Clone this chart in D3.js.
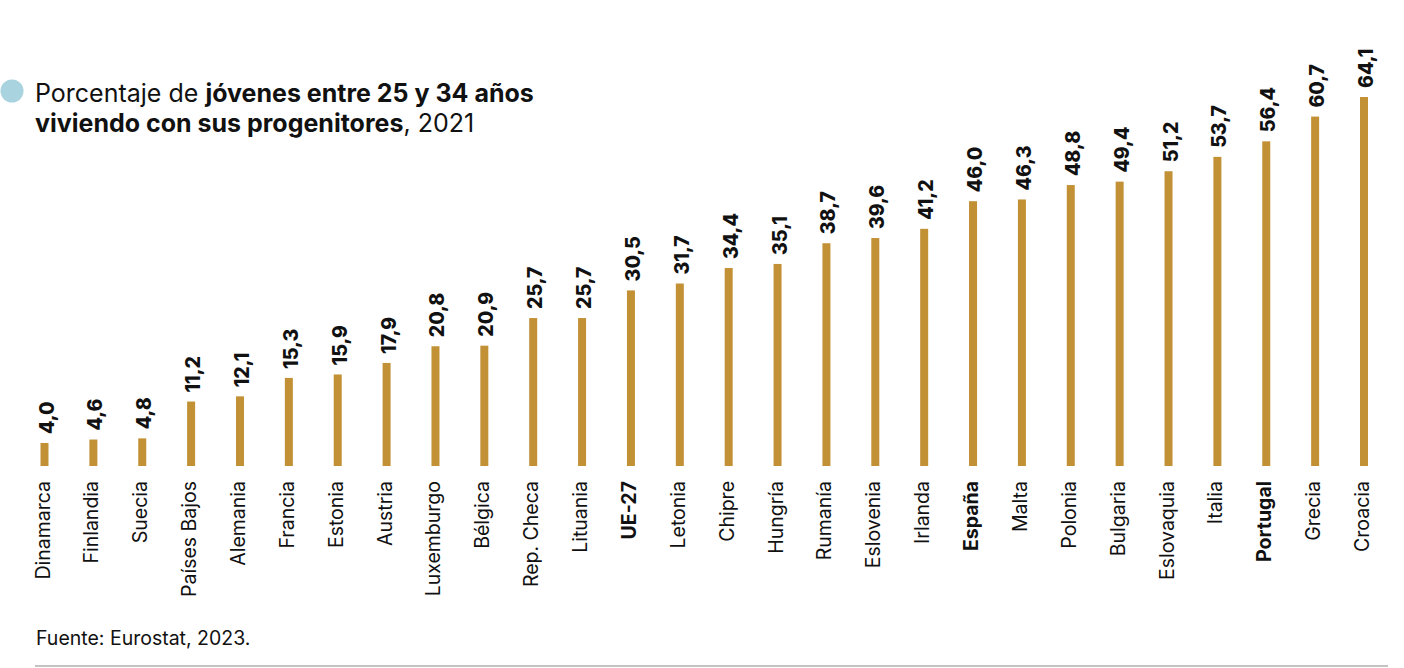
<!DOCTYPE html>
<html>
<head>
<meta charset="utf-8">
<script src="https://cdn.jsdelivr.net/npm/d3@7"></script>
<style>
  body { margin: 0; background: #fff; }
  svg { display: block; font-family: Inter, "Noto Sans", sans-serif; }
</style>
</head>
<body>
<div id="chart"></div>
<script>
// datos (Eurostat 2021)
const paises = ["Dinamarca", "Finlandia", "Suecia", "Países Bajos", "Alemania", "Francia", "Estonia",
  "Austria", "Luxemburgo", "Bélgica", "Rep. Checa", "Lituania", "UE-27", "Letonia", "Chipre", "Hungría",
  "Rumanía", "Eslovenia", "Irlanda", "España", "Malta", "Polonia", "Bulgaria", "Eslovaquia", "Italia",
  "Portugal", "Grecia", "Croacia"];
const valores = [4.0, 4.6, 4.8, 11.2, 12.1, 15.3, 15.9, 17.9, 20.8, 20.9, 25.7, 25.7, 30.5, 31.7, 34.4,
  35.1, 38.7, 39.6, 41.2, 46.0, 46.3, 48.8, 49.4, 51.2, 53.7, 56.4, 60.7, 64.1];
const destacados = ["UE-27", "España", "Portugal"];

const width = 1404, height = 668;
const base = 466;

const svg = d3.select("#chart").append("svg")
  .attr("width", width)
  .attr("height", height);

const x = d3.scalePoint()
  .domain(paises)
  .range([44.5, 1364]);

const y = d3.scaleLinear()
  .domain([0, 64.1])
  .range([base, 97]);

const datos = paises.map((p, i) => ({ pais: p, valor: valores[i] }));
const fmt = v => v.toFixed(1).replace(".", ",");

// titulo
svg.append("circle")
  .attr("cx", 12).attr("cy", 91).attr("r", 11.5)
  .attr("fill", "#a9d3df");

const titulo = svg.append("text")
  .attr("x", 35).attr("y", 102)
  .style("font-size", "25px")
  .attr("fill", "#111");
titulo.append("tspan").text("Porcentaje de ");
titulo.append("tspan").attr("font-weight", "bold").text("jóvenes entre 25 y 34 años");
const t2 = svg.append("text")
  .attr("x", 35).attr("y", 132)
  .style("font-size", "25px")
  .attr("fill", "#111");
t2.append("tspan").attr("font-weight", "bold").text("viviendo con sus progenitores");
t2.append("tspan").text(", 2021");

// barras
svg.selectAll("rect.bar")
  .data(datos)
  .enter().append("rect")
  .attr("class", "bar")
  .attr("x", d => x(d.pais) - 4)
  .attr("y", d => y(d.valor))
  .attr("width", 8)
  .attr("height", d => base - y(d.valor))
  .attr("fill", "#c29136");

// etiquetas de valor
svg.selectAll("text.valor")
  .data(datos)
  .enter().append("text")
  .attr("class", "valor")
  .attr("transform", d => `translate(${x(d.pais) + 2},${y(d.valor) - 9}) rotate(-90)`)
  .attr("dy", "0.36em")
  .attr("font-weight", 800)
  .style("font-size", "19.5px")
  .attr("fill", "#111")
  .text(d => fmt(d.valor));

// nombres de paises
svg.selectAll("text.pais")
  .data(datos)
  .enter().append("text")
  .attr("class", "pais")
  .attr("transform", d => `translate(${x(d.pais) - 2},${base + 15}) rotate(-90)`)
  .attr("text-anchor", "end")
  .attr("dy", "0.36em")
  .attr("font-weight", d => destacados.includes(d.pais) ? "bold" : "normal")
  .style("font-size", "19.5px")
  .attr("fill", "#111")
  .text(d => d.pais);

// fuente
svg.append("text")
  .attr("x", 36).attr("y", 645)
  .style("font-size", "19.5px")
  .attr("fill", "#111")
  .text("Fuente: Eurostat, 2023.");

svg.append("line")
  .attr("x1", 35).attr("x2", 1388)
  .attr("y1", 666).attr("y2", 666)
  .attr("stroke", "#888")
  .attr("stroke-width", 1.2);
</script>
</body>
</html>
